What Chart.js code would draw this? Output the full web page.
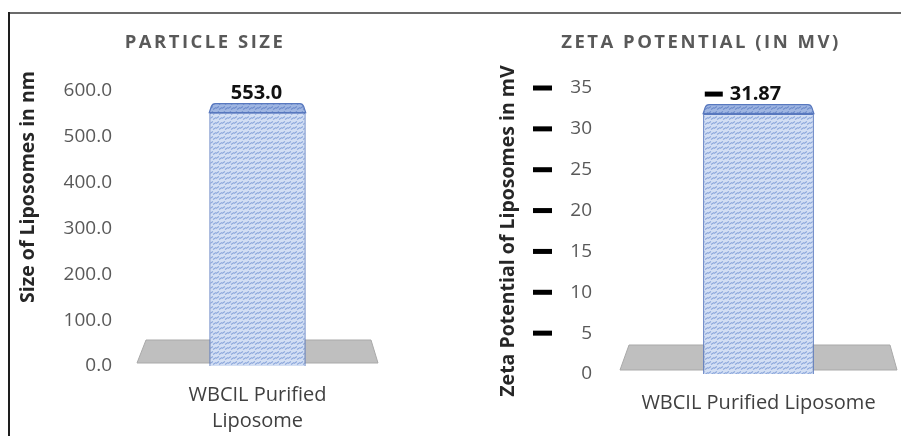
<!DOCTYPE html>
<html>
<head>
<meta charset="utf-8">
<script src="https://cdn.jsdelivr.net/npm/chart.js@4.4.1/dist/chart.umd.min.js"></script>
<style>
  html, body { margin: 0; padding: 0; background: #fff; }
  body { width: 901px; height: 436px; position: relative; overflow: hidden; }
  canvas { position: absolute; top: 0; }
  #sizeChart { left: 0; }
  #zetaChart { left: 450px; }
  .rule-top { position: absolute; left: 8px; top: 12px; width: 893px; height: 0; border-top: 2px solid #6b6b6b; }
  .rule-left { position: absolute; left: 8px; top: 12px; width: 0; height: 424px; border-left: 2px solid #1e1e1e; }
</style>
</head>
<body>
<canvas id="sizeChart" width="450" height="436"></canvas>
<canvas id="zetaChart" width="451" height="436"></canvas>
<div class="rule-top"></div>
<div class="rule-left"></div>
<script>
// ---- data ----
const sizeCategories = [['WBCIL Purified', 'Liposome']];
const sizeValues = [553.0];
const sizeTickMin = 0, sizeTickMax = 600, sizeTickStep = 100;

const zetaCategories = ['WBCIL Purified Liposome'];
const zetaValues = [31.87];
const zetaTickMin = 0, zetaTickMax = 35, zetaTickStep = 5;

const FONT = "'Open Sans', sans-serif";

// light blue textured fill used for the columns
function columnPattern(ctx, bg, fg) {
  const tile = document.createElement('canvas');
  tile.width = 6; tile.height = 5;
  const g = tile.getContext('2d');
  g.fillStyle = bg; g.fillRect(0, 0, 6, 5);
  g.strokeStyle = fg; g.lineWidth = 1.1;
  g.beginPath();
  g.moveTo(0, 3.5); g.lineTo(3, 1.5);
  g.moveTo(3, 4.5); g.lineTo(6, 2.5);
  g.stroke();
  return ctx.createPattern(tile, 'repeat');
}

// floor, 3D column cap, value label, titles and tick dashes
const decor = {
  id: 'decor',
  beforeDatasetsDraw(chart, args, o) {
    const { ctx, chartArea: a } = chart;
    const y0 = chart.scales.y.getPixelForValue(0);
    const yb = y0 - o.floorDrop, yt = yb - o.floorDepth;
    ctx.save();
    ctx.beginPath();
    ctx.moveTo(a.left, yb);
    ctx.lineTo(a.right, yb);
    ctx.lineTo(a.right - o.insetR, yt);
    ctx.lineTo(a.left + o.insetL, yt);
    ctx.closePath();
    ctx.fillStyle = '#BFBFBF';
    ctx.fill();
    ctx.strokeStyle = '#A9A9A9';
    ctx.lineWidth = 1;
    ctx.stroke();
    ctx.restore();
  },
  afterDatasetsDraw(chart, args, o) {
    const { ctx } = chart;
    const bar = chart.getDatasetMeta(0).data[0];
    const l = bar.x - bar.width / 2, r = bar.x + bar.width / 2;
    const top = bar.y, capH = 9, r0 = 3;
    // top face of the column
    ctx.save();
    ctx.beginPath();
    ctx.moveTo(l, top);
    ctx.lineTo(l + 2, top - capH + r0);
    ctx.quadraticCurveTo(l + 3, top - capH, l + 3 + r0, top - capH);
    ctx.lineTo(r - 3 - r0, top - capH);
    ctx.quadraticCurveTo(r - 3, top - capH, r - 2, top - capH + r0);
    ctx.lineTo(r, top);
    ctx.closePath();
    ctx.fillStyle = o.capPattern;
    ctx.fill();
    ctx.strokeStyle = '#5878BE';
    ctx.lineWidth = 1.2;
    ctx.stroke();
    ctx.restore();

    // value label
    const v = chart.data.datasets[0].data[0];
    const text = o.valueFormat(v);
    ctx.save();
    ctx.font = 'bold 20px ' + FONT;
    ctx.fillStyle = '#111';
    ctx.textAlign = 'center';
    ctx.textBaseline = 'middle';
    const tx = bar.x + o.valueShift, ty = bar.y - 19;
    ctx.fillText(text, tx, ty);
    if (o.valueDash) {
      const w = ctx.measureText(text).width;
      ctx.fillStyle = '#000';
      ctx.fillRect(tx - w / 2 - 25, ty - 3, 18, 5);
    }
    ctx.restore();
  },
  afterDraw(chart, args, o) {
    const { ctx } = chart;
    ctx.save();
    // chart title
    ctx.font = 'bold 18.5px ' + FONT;
    ctx.letterSpacing = '2.5px';
    ctx.fillStyle = '#595959';
    ctx.textAlign = 'center';
    ctx.textBaseline = 'middle';
    ctx.fillText(o.title, o.titleX, o.titleY);
    ctx.letterSpacing = '0px';
    // vertical axis title
    ctx.translate(o.axisX, o.axisY);
    ctx.rotate(-Math.PI / 2);
    ctx.font = 'bold 19.5px ' + FONT;
    ctx.fillStyle = '#262626';
    ctx.fillText(o.axisTitle, 0, 0);
    ctx.restore();

    // short black dashes beside the tick values
    if (o.tickDashX != null) {
      const s = chart.scales.y;
      ctx.save();
      ctx.fillStyle = '#000';
      s.ticks.forEach(t => {
        if (t.value <= 0) return;
        const y = s.getPixelForValue(t.value);
        ctx.fillRect(o.tickDashX, y - 2.5, 19, 5);
      });
      ctx.restore();
    }
  }
};

function buildChart(id, cfg) {
  const canvas = document.getElementById(id);
  const ctx = canvas.getContext('2d');
  return new Chart(ctx, {
    type: 'bar',
    data: {
      labels: cfg.labels,
      datasets: [{
        data: cfg.values,
        backgroundColor: columnPattern(ctx, '#D3DFF4', '#8EA9DC'),
        borderColor: '#5878BE',
        borderWidth: 1.3,
        barPercentage: 0.8,
        categoryPercentage: 0.5
      }]
    },
    options: {
      responsive: false,
      animation: false,
      events: [],
      layout: { padding: { left: 0, top: cfg.top, right: cfg.right, bottom: 0 } },
      plugins: {
        legend: { display: false },
        tooltip: { enabled: false },
        decor: {
          title: cfg.title, titleX: cfg.titleX, titleY: 43,
          axisTitle: cfg.axisTitle, axisX: cfg.axisX, axisY: cfg.axisY,
          valueFormat: cfg.valueFormat, valueShift: cfg.valueShift, valueDash: cfg.valueDash,
          tickDashX: cfg.tickDashX,
          floorDrop: cfg.floorDrop, floorDepth: cfg.floorDepth, insetL: 9, insetR: 7,
          capPattern: columnPattern(ctx, '#9FB6E2', '#6E8CCB')
        }
      },
      scales: {
        x: {
          grid: { display: false, drawTicks: false },
          border: { display: false },
          ticks: {
            color: '#404040',
            font: { family: FONT, size: 20, lineHeight: 1.3 },
            padding: 16,
            maxRotation: 0
          },
          afterFit: s => { s.height = cfg.xHeight; }
        },
        y: {
          min: cfg.min, max: cfg.max,
          grid: { display: false, drawTicks: false },
          border: { display: false },
          ticks: {
            stepSize: cfg.step,
            color: '#595959',
            font: { family: FONT, size: 19 },
            padding: cfg.tickPad,
            callback: cfg.tickFormat
          },
          afterFit: s => { s.width = cfg.yWidth; }
        }
      }
    },
    plugins: [decor]
  });
}

buildChart('sizeChart', {
  labels: sizeCategories, values: sizeValues,
  min: sizeTickMin, max: sizeTickMax, step: sizeTickStep,
  tickFormat: v => Number(v).toFixed(1),
  top: 91, right: 72, yWidth: 137, tickPad: 25, xHeight: 70,
  title: 'PARTICLE SIZE', titleX: 205,
  axisTitle: 'Size of Liposomes in nm', axisX: 28, axisY: 187,
  valueFormat: v => v.toFixed(1), valueShift: -1, valueDash: false,
  tickDashX: null, floorDrop: 3, floorDepth: 23
});

buildChart('zetaChart', {
  labels: zetaCategories, values: zetaValues,
  min: zetaTickMin, max: zetaTickMax, step: zetaTickStep,
  tickFormat: v => String(v),
  top: 88, right: 4, yWidth: 170, tickPad: 28, xHeight: 62,
  title: 'ZETA POTENTIAL (IN MV)', titleX: 251,
  axisTitle: 'Zeta Potential of Liposomes in mV', axisX: 58, axisY: 231,
  valueFormat: v => v.toFixed(2), valueShift: -3, valueDash: true,
  tickDashX: 83, floorDrop: 4, floorDepth: 25
});
</script>
</body>
</html>
